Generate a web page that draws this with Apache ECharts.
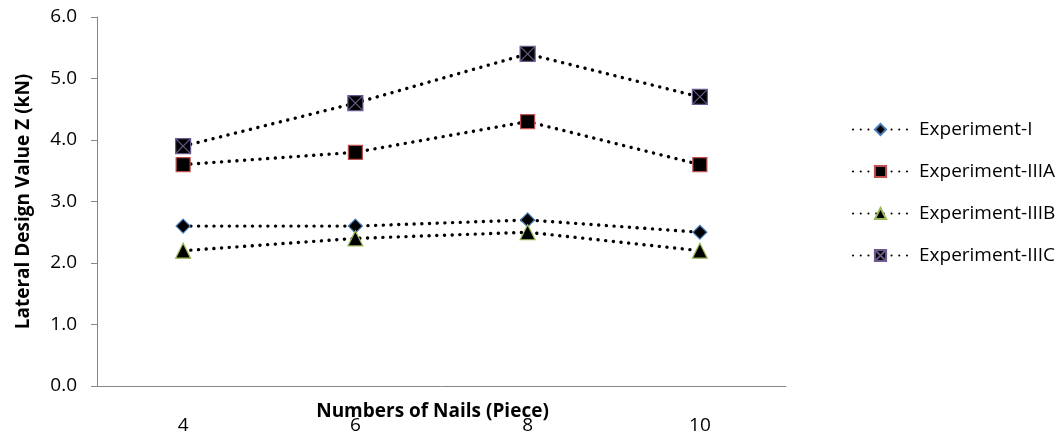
<!DOCTYPE html>
<html>
<head>
<meta charset="utf-8">
<script src="https://cdn.jsdelivr.net/npm/echarts@6/dist/echarts.min.js"></script>
<style>
  html, body { margin: 0; padding: 0; background: #fff; }
  #chart { width: 1057px; height: 436px; }
</style>
</head>
<body>
<div id="chart"></div>
<script>
// Number of nails per joint (categories on the x axis)
const nails = ['4', '6', '8', '10'];

// Lateral design values Z (kN)
const experimentI    = [2.6, 2.6, 2.7, 2.5];
const experimentIIIA = [3.6, 3.8, 4.3, 3.6];
const experimentIIIB = [2.2, 2.4, 2.5, 2.2];
const experimentIIIC = [3.9, 4.6, 5.4, 4.7];

const seriesNames = ['Experiment-I', 'Experiment-IIIA', 'Experiment-IIIB', 'Experiment-IIIC'];
const yTicks = { min: 0, max: 6, interval: 1 };

const FONT = '"Open Sans", "Noto Sans", sans-serif';
const FONT_SIZE = 19;
const AXIS_GREY = '#868686';

// round-capped short dashes give a dotted line
const dotted = {
  color: '#000',
  width: 3.4,
  type: [0.1, 7.6],
  cap: 'round'
};

function makeSeries(name, data, symbol, size, border) {
  return {
    name: name,
    type: 'line',
    data: data,
    symbol: symbol,
    symbolSize: size,
    showAllSymbol: true,
    lineStyle: dotted,
    itemStyle: { color: '#000', borderColor: border, borderWidth: 1.2 },
    emphasis: { disabled: true },
    z: 3
  };
}

const chart = echarts.init(document.getElementById('chart'), null, { renderer: 'canvas' });

chart.setOption({
  animation: false,
  backgroundColor: '#fff',
  textStyle: { fontFamily: FONT },
  grid: {
    left: 97, right: 271, top: 17, bottom: 50,
    containLabel: false,
    outerBoundsMode: 'none'
  },
  legend: {
    orient: 'vertical',
    left: 847,
    top: 115,
    itemWidth: 55,
    itemHeight: 14,
    itemGap: 23,
    data: seriesNames,
    textStyle: { fontFamily: FONT, fontSize: FONT_SIZE, color: '#000', padding: [0, 0, 0, 6] }
  },
  xAxis: {
    type: 'category',
    data: nails,
    boundaryGap: true,
    name: 'Numbers of Nails (Piece)',
    nameLocation: 'middle',
    nameGap: 16,
    nameMoveOverlap: false,
    nameTextStyle: {
      fontFamily: FONT, fontSize: FONT_SIZE, fontWeight: 'bold', color: '#000',
      padding: [0, 18, 0, 0]
    },
    axisLine: { lineStyle: { color: AXIS_GREY, width: 1 } },
    axisTick: { show: false },
    axisLabel: { margin: 30, fontSize: FONT_SIZE, color: '#000', fontFamily: FONT },
    splitLine: { show: false }
  },
  yAxis: {
    type: 'value',
    min: yTicks.min,
    max: yTicks.max,
    interval: yTicks.interval,
    name: 'Lateral Design Value Z (kN)',
    nameLocation: 'middle',
    nameGap: 64,
    nameMoveOverlap: false,
    nameTextStyle: { fontFamily: FONT, fontSize: FONT_SIZE, fontWeight: 'bold', color: '#000' },
    axisLine: { show: true, lineStyle: { color: AXIS_GREY, width: 1 } },
    axisTick: { show: true, length: 6, lineStyle: { color: AXIS_GREY } },
    axisLabel: {
      margin: 20, fontSize: FONT_SIZE, color: '#000', fontFamily: FONT,
      formatter: v => v.toFixed(1)
    },
    splitLine: { show: false }
  },
  series: [
    makeSeries(seriesNames[0], experimentI, 'diamond', 14, '#4a7ebb'),
    makeSeries(seriesNames[1], experimentIIIA, 'rect', 14, '#c0504d'),
    makeSeries(seriesNames[2], experimentIIIB, 'triangle', 15, '#9bbb59'),
    makeSeries(seriesNames[3], experimentIIIC,
      'path://M0,0L10,0L10,10L0,10Z M0,0L10,10 M10,0L0,10', 15, '#6b5a8e')
  ]
});
</script>
</body>
</html>
